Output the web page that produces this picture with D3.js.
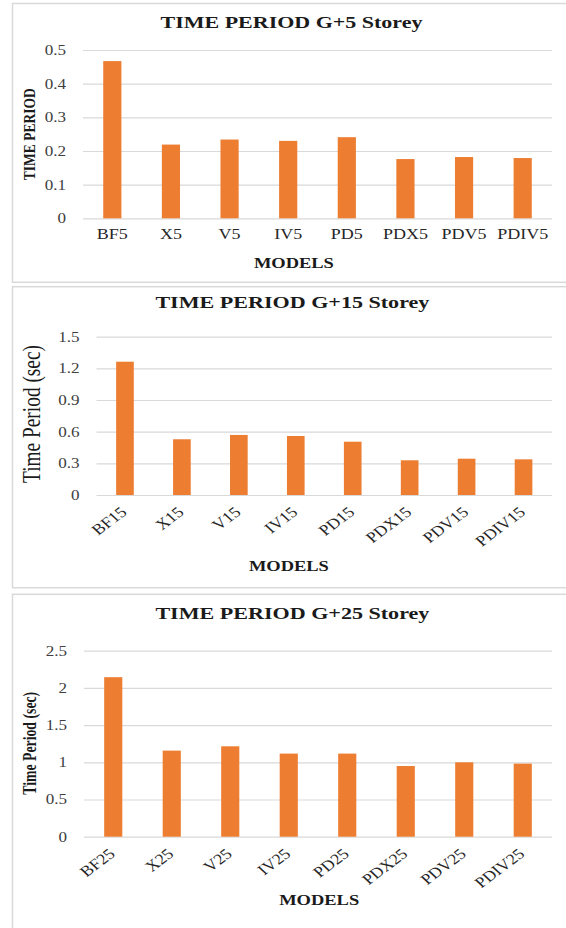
<!DOCTYPE html>
<html><head><meta charset="utf-8">
<script src="https://cdn.jsdelivr.net/npm/d3@7/dist/d3.min.js"></script>
<style>
body{margin:0;background:#fff}
svg{display:block}
text{font-family:"Liberation Serif","Times New Roman",serif}
</style>
</head><body>
<svg id="chart" width="566" height="928"></svg>
<script>
// ---- data ----
const models5 = ["BF5","X5","V5","IV5","PD5","PDX5","PDV5","PDIV5"];
const period5 = [0.467,0.219,0.234,0.230,0.241,0.176,0.182,0.179];
const ticks5 = [0,0.1,0.2,0.3,0.4,0.5];

const models15 = ["BF15","X15","V15","IV15","PD15","PDX15","PDV15","PDIV15"];
const period15 = [1.263,0.528,0.569,0.559,0.505,0.329,0.344,0.338];
const ticks15 = [0,0.3,0.6,0.9,1.2,1.5];

const models25 = ["BF25","X25","V25","IV25","PD25","PDX25","PDV25","PDIV25"];
const period25 = [2.144,1.157,1.215,1.117,1.117,0.950,1.000,0.982];
const ticks25 = [0,0.5,1,1.5,2,2.5];

const titles = ["TIME PERIOD G+5 Storey","TIME PERIOD G+15 Storey","TIME PERIOD G+25 Storey"];
const yTitles = ["TIME PERIOD","Time Period (sec)","Time Period (sec)"];
const xTitle = "MODELS";

// ---- layout ----
const panels = [
  {models:models5, values:period5, ticks:ticks5, title:titles[0], yTitle:yTitles[0],
   box:[3.5,282.3], x:[83,552], y:[218.3,50], titleY:28.3, titleX:291.5, titleLen:262,
   yt:{x:35, y:134.2, size:14.5, bold:true, len:92},
   rotated:false, mx:293.9, my:268},
  {models:models15, values:period15, ticks:ticks15, title:titles[1], yTitle:yTitles[1],
   box:[286.7,587.7], x:[96.5,552], y:[495,336.7], titleY:308.3, titleX:292.4, titleLen:274,
   yt:{x:39.5, y:414, size:20.5, bold:false, len:138},
   rotated:true, mx:288.9, my:571},
  {models:models25, values:period25, ticks:ticks25, title:titles[2], yTitle:yTitles[2],
   box:[594.3,960], x:[84,552], y:[836.7,650.7], titleY:618.7, titleX:292.4, titleLen:274,
   yt:{x:36, y:743.3, size:15, bold:true, len:103},
   rotated:true, mx:319.2, my:905.3}
];

const svg = d3.select("#chart");
function stretch(sel, k){
  sel.each(function(){
    const L = this.getComputedTextLength();
    this.setAttribute("textLength", (L*k).toFixed(2));
    this.setAttribute("lengthAdjust","spacingAndGlyphs");
  });
}

panels.forEach(p => {
  const g = svg.append("g");
  g.append("rect")
    .attr("x",12.5).attr("y",p.box[0])
    .attr("width",600).attr("height",p.box[1]-p.box[0])
    .attr("fill","none").attr("stroke","#d9d9d9").attr("stroke-width",1.5);

  const x = d3.scaleBand().domain(p.models).range(p.x).paddingInner(0.69).paddingOuter(0.345);
  const y = d3.scaleLinear().domain([p.ticks[0], p.ticks[p.ticks.length-1]]).range(p.y);

  // y axis with gridlines
  const ya = g.append("g").attr("transform",`translate(${p.x[0]},0)`)
    .call(d3.axisLeft(y).tickValues(p.ticks).tickSize(-(p.x[1]-p.x[0])).tickPadding(17).tickFormat(d=>String(d)));
  ya.select(".domain").remove();
  ya.selectAll(".tick line").attr("stroke","#d9d9d9").attr("stroke-width",1.2);
  ya.selectAll(".tick text").attr("font-size",14).attr("fill","#404040");
  stretch(ya.selectAll(".tick text"), 1.22);

  // bars
  g.selectAll("rect.bar").data(p.values).join("rect").attr("class","bar")
    .attr("x",(d,i)=>x(p.models[i]))
    .attr("width",x.bandwidth())
    .attr("y",d=>y(d))
    .attr("height",d=>y(0)-y(d))
    .attr("fill","#ed7d31");

  // x axis labels
  const xa = g.append("g").attr("transform",`translate(0,${p.y[0]})`)
    .call(d3.axisBottom(x).tickSize(0).tickPadding(0));
  xa.select(".domain").remove();
  const xt = xa.selectAll(".tick text").attr("fill","#262626");
  if(!p.rotated){
    xt.attr("font-size",15).attr("y",21).attr("dy",0);
    stretch(xt, 1.2);
  } else {
    xt.attr("font-size",15).attr("y",0).attr("dy",0).attr("text-anchor","end")
      .attr("transform","translate(3,18.5) scale(1.2,1) rotate(-42)");
  }

  // chart title
  g.append("text").attr("x",p.titleX).attr("y",p.titleY)
    .attr("text-anchor","middle").attr("font-size",17.5).attr("font-weight","bold")
    .attr("fill","#1a1a1a").attr("textLength",p.titleLen).attr("lengthAdjust","spacingAndGlyphs")
    .text(p.title);

  // y title
  g.append("g").attr("transform",`translate(${p.yt.x},${p.yt.y}) scale(1.2,1) rotate(-90)`)
    .append("text").attr("text-anchor","middle").attr("font-size",p.yt.size)
    .attr("font-weight",p.yt.bold?"bold":"normal").attr("fill","#1a1a1a")
    .attr("textLength",p.yt.len).attr("lengthAdjust","spacingAndGlyphs")
    .text(p.yTitle);

  // x title
  g.append("text").attr("x",p.mx).attr("y",p.my).attr("text-anchor","middle")
    .attr("font-size",15).attr("font-weight","bold").attr("fill","#1a1a1a")
    .attr("textLength",80).attr("lengthAdjust","spacingAndGlyphs")
    .text(xTitle);
});
</script>
</body></html>
